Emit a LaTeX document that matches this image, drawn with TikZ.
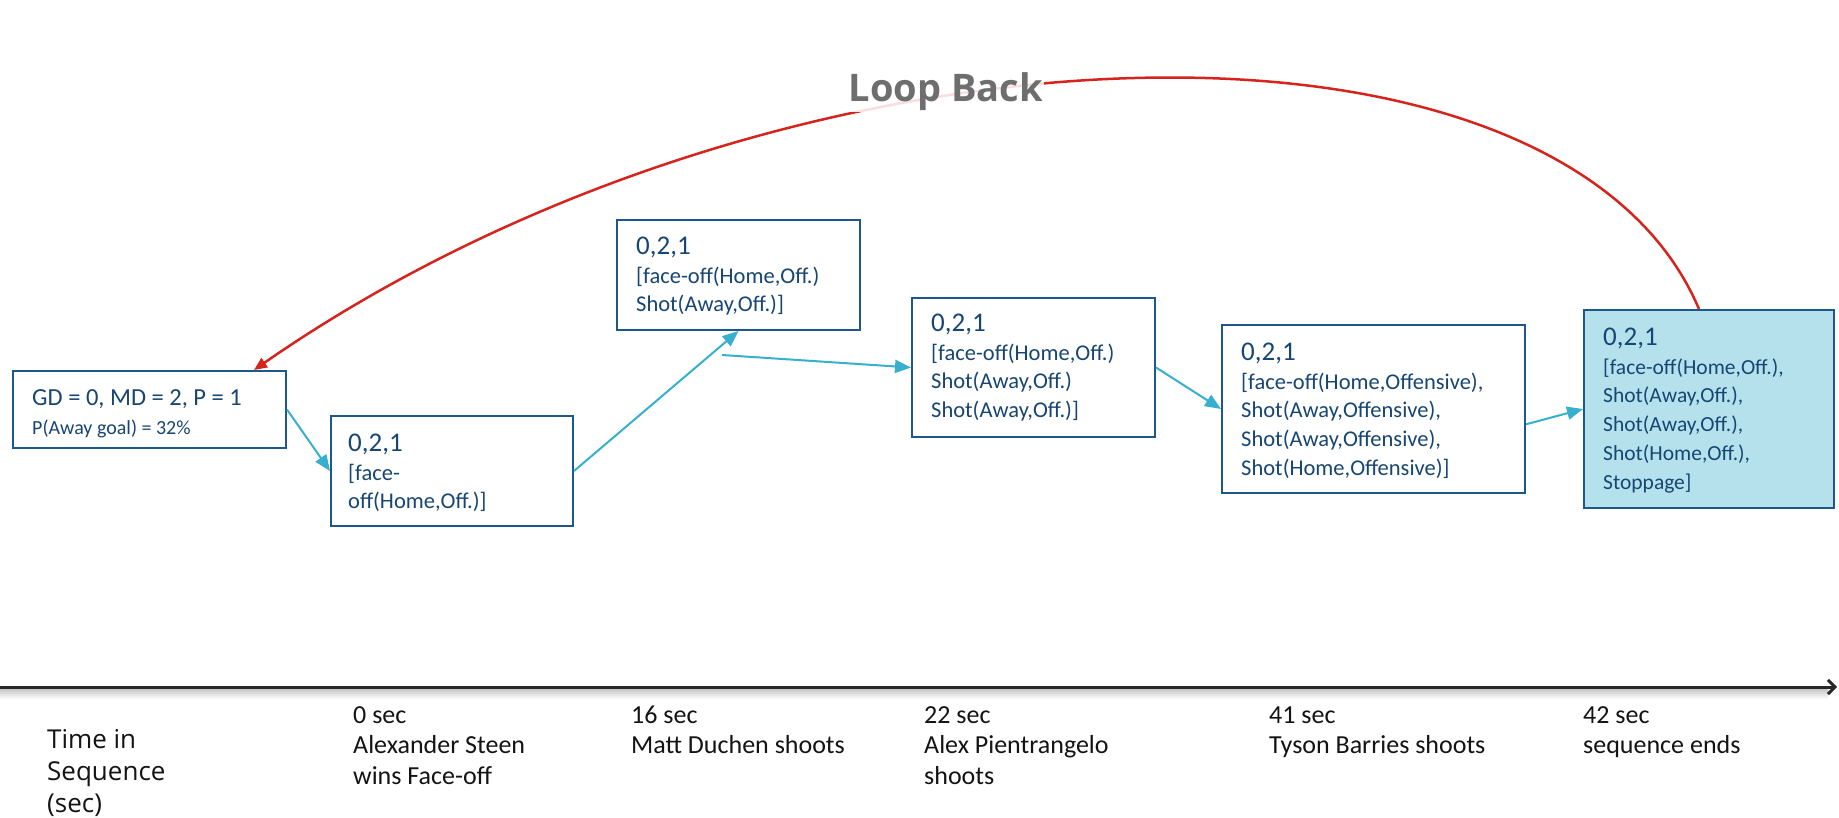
\documentclass[tikz,border=0pt]{standalone}
\usepackage{fontspec}
\setmainfont{Carlito}
\newfontfamily\carl{Carlito}
\newfontfamily\osans{Open Sans}
\usetikzlibrary{arrows.meta,calc}
\definecolor{navy}{RGB}{24,70,115}
\definecolor{boxline}{RGB}{30,88,138}
\definecolor{cyanarr}{RGB}{55,176,206}
\definecolor{loopred}{RGB}{212,36,28}
\definecolor{fillblue}{RGB}{180,225,236}
\definecolor{loopgray}{RGB}{110,110,110}
\definecolor{axisgray}{RGB}{40,40,40}
\definecolor{labeltext}{RGB}{20,20,20}
\begin{document}
\begin{tikzpicture}[x=1pt,y=-1pt,
 box/.style={draw=boxline,line width=2pt,rectangle,inner sep=0pt,anchor=north west},
 btext/.style={align=left,inner sep=0pt,anchor=north west,text=navy,font=\carl\fontsize{22.5}{28.8}\selectfont},
 flow/.style={draw=cyanarr,line width=2pt,-{Triangle[length=16pt,width=13pt]}},
 loop/.style={draw=loopred,line width=2.5pt,-{Triangle[length=13pt,width=11pt]}},
 tlabel/.style={align=left,inner sep=0pt,anchor=north west,text=labeltext,font=\carl\fontsize{26}{30.5}\selectfont},
 axisline/.style={draw=axisgray,line width=3pt,-{Straight Barb[length=7pt,width=14pt]}}]
\useasboundingbox[fill=white] (0,0) rectangle (1839,818);

% boxes
\node[box,minimum width=273pt,minimum height=77pt] (b1) at (12,370) {};
\node[box,minimum width=242pt,minimum height=110pt] (b2) at (330,415) {};
\node[box,minimum width=243pt,minimum height=110pt] (b3) at (616,219) {};
\node[box,minimum width=243pt,minimum height=139pt] (b4) at (911,297) {};
\node[box,minimum width=303pt,minimum height=168pt] (b5) at (1221,324) {};
\node[box,fill=fillblue,minimum width=250pt,minimum height=198pt] (b6) at (1583,309) {};

% box texts
\node[btext] (t1) at (32,385) {\rule{0pt}{20pt}\fontsize{24.5}{27}\selectfont GD = 0, MD = 2, P = 1\\\fontsize{20}{27}\selectfont P(Away goal) = 32\%};
\node[btext] (t2) at (348,431) {\rule{0pt}{20pt}{\fontsize{27}{28.8}\selectfont 0,2,1}\\{[}face-\\off(Home,Off.)]};
\node[btext] (t3) at (636,234) {\rule{0pt}{20pt}{\fontsize{27}{28.8}\selectfont 0,2,1}\\{[}face-off(Home,Off.)\\Shot(Away,Off.)]};
\node[btext] (t4) at (931,311) {\rule{0pt}{20pt}{\fontsize{27}{28.8}\selectfont 0,2,1}\\{[}face-off(Home,Off.)\\Shot(Away,Off.)\\Shot(Away,Off.)]};
\node[btext] (t5) at (1241,340) {\rule{0pt}{20pt}{\fontsize{27}{28.8}\selectfont 0,2,1}\\{[}face-off(Home,Offensive),\\Shot(Away,Offensive),\\Shot(Away,Offensive),\\Shot(Home,Offensive)]};
\node[btext,font=\carl\fontsize{21.5}{28.8}\selectfont] (t6) at (1603,325) {\rule{0pt}{20pt}{\fontsize{27}{28.8}\selectfont 0,2,1}\\{[}face-off(Home,Off.),\\Shot(Away,Off.),\\Shot(Away,Off.),\\Shot(Home,Off.),\\Stoppage]};

% flow arrows
\coordinate (f3) at (722,355);
\draw[flow] (b1.east) -- (b2.west);
\draw[flow] (b2.east) -- (b3.south);
\draw[flow] (f3) -- (b4.west);
\draw[flow] (b4.east) -- (b5.west);
\draw[flow] ($(b5.east)!0.18!(b5.south east)$) -- (b6.west);

% loop back
\coordinate (r0) at ($(b6.north west)!0.46!(b6.north east)$);
\coordinate (r1) at ($(b1.north west)!0.88!(b1.north east)$);
\draw[loop] (r0) .. controls (1560,-20) and (780,5) .. (r1);
\node[font=\osans\bfseries\fontsize{38}{40}\selectfont,text=loopgray,fill=white,fill opacity=0.85,text opacity=1,inner sep=1pt] (lb) at (946,92) {Loop Back};

% time axis
\shade[top color=black!22,bottom color=white] (0,689) rectangle (1828,699);
\coordinate (ax0) at (0,687);
\coordinate (ax1) at (1837,687);
\draw[axisline] (ax0) -- (ax1);

% axis labels
\node[tlabel,font=\osans\fontsize{26}{32}\selectfont] (lt) at (47,726) {\rule{0pt}{22pt}Time in\\Sequence\\(sec)};
\node[tlabel] (l0) at (353,703) {\rule{0pt}{20pt}0 sec\\Alexander Steen\\wins Face-off};
\node[tlabel] (l1) at (631,703) {\rule{0pt}{20pt}16 sec\\Matt Duchen shoots};
\node[tlabel] (l2) at (924,703) {\rule{0pt}{20pt}22 sec\\Alex Pientrangelo\\shoots};
\node[tlabel] (l3) at (1269,703) {\rule{0pt}{20pt}41 sec\\Tyson Barries shoots};
\node[tlabel] (l4) at (1583,703) {\rule{0pt}{20pt}42 sec\\sequence ends};
\end{tikzpicture}
\end{document}
